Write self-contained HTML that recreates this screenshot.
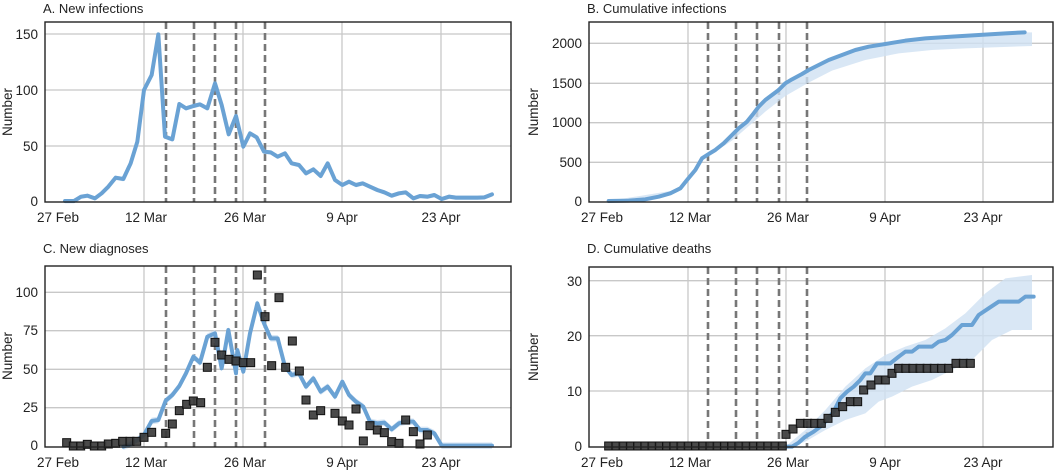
<!DOCTYPE html>
<html><head><meta charset="utf-8"><style>
body{margin:0;background:#fff}
svg{display:block}
text{font-family:"Liberation Sans",sans-serif;fill:#222}
.t{font-size:13px}
.k{font-size:13.5px}
.grid line{stroke:#c8c8c8;stroke-width:1.3}
.dash{stroke:#777;stroke-width:2.6;stroke-dasharray:7,4}
.ln{fill:none;stroke:#6aa2d4;stroke-width:12;stroke-linejoin:round;stroke-linecap:round}
.band{fill:#cfe1f3;opacity:.8}
.box{fill:none;stroke:#222;stroke-width:1.4}
</style></head><body>
<svg id="s" width="1064" height="472" viewBox="0 0 1064 472" xmlns="http://www.w3.org/2000/svg">
<!-- Panel A -->
<text x="43" y="13" class="t">A. New infections</text>
<g class="grid"><line x1="45" x2="511" y1="34" y2="34"/><line x1="45" x2="511" y1="90" y2="90"/><line x1="45" x2="511" y1="146" y2="146"/>
<line x1="144" x2="144" y1="22" y2="202"/><line x1="243" x2="243" y1="22" y2="202"/><line x1="342" x2="342" y1="22" y2="202"/><line x1="441" x2="441" y1="22" y2="202"/></g>
<g class="dash"><line x1="166" x2="166" y1="22" y2="202"/><line x1="194" x2="194" y1="22" y2="202"/><line x1="215" x2="215" y1="22" y2="202"/><line x1="236" x2="236" y1="22" y2="202"/><line x1="265" x2="265" y1="22" y2="202"/></g>
<g id="gA" transform="scale(0.33333)"></g>
<rect class="box" x="45" y="22" width="466" height="180"/>
<g class="k" text-anchor="end"><text x="38" y="39">150</text><text x="38" y="95">100</text><text x="38" y="151">50</text><text x="38" y="206">0</text></g>
<g class="k" text-anchor="middle"><text x="58" y="222">27 Feb</text><text x="146" y="222">12 Mar</text><text x="245" y="222">26 Mar</text><text x="342" y="222">9 Apr</text><text x="441" y="222">23 Apr</text></g>
<text class="k" transform="translate(12,112) rotate(-90)" text-anchor="middle">Number</text>

<!-- Panel B -->
<text x="587" y="13" class="t">B. Cumulative infections</text>
<g class="grid"><line x1="589" x2="1053" y1="43.3" y2="43.3"/><line x1="589" x2="1053" y1="83.3" y2="83.3"/><line x1="589" x2="1053" y1="122.7" y2="122.7"/><line x1="589" x2="1053" y1="162.3" y2="162.3"/>
<line x1="688" x2="688" y1="22" y2="202"/><line x1="786" x2="786" y1="22" y2="202"/><line x1="885" x2="885" y1="22" y2="202"/><line x1="983" x2="983" y1="22" y2="202"/></g>
<g class="dash"><line x1="708" x2="708" y1="22" y2="202"/><line x1="736" x2="736" y1="22" y2="202"/><line x1="757" x2="757" y1="22" y2="202"/><line x1="779" x2="779" y1="22" y2="202"/><line x1="807" x2="807" y1="22" y2="202"/></g>
<g id="gB" transform="translate(532,0) scale(0.33333)"></g>
<rect class="box" x="589" y="22" width="464" height="180"/>
<g class="k" text-anchor="end"><text x="582" y="48">2000</text><text x="582" y="88">1500</text><text x="582" y="127">1000</text><text x="582" y="167">500</text><text x="582" y="206">0</text></g>
<g class="k" text-anchor="middle"><text x="602" y="222">27 Feb</text><text x="690" y="222">12 Mar</text><text x="788" y="222">26 Mar</text><text x="885" y="222">9 Apr</text><text x="983" y="222">23 Apr</text></g>
<text class="k" transform="translate(538,112) rotate(-90)" text-anchor="middle">Number</text>

<!-- Panel C -->
<text x="43" y="253" class="t">C. New diagnoses</text>
<g class="grid"><line x1="45" x2="511" y1="292.3" y2="292.3"/><line x1="45" x2="511" y1="330.7" y2="330.7"/><line x1="45" x2="511" y1="369.3" y2="369.3"/><line x1="45" x2="511" y1="407.7" y2="407.7"/>
<line x1="144" x2="144" y1="266" y2="447"/><line x1="243" x2="243" y1="266" y2="447"/><line x1="342" x2="342" y1="266" y2="447"/><line x1="441" x2="441" y1="266" y2="447"/></g>
<g class="dash"><line x1="166" x2="166" y1="266" y2="447"/><line x1="194" x2="194" y1="266" y2="447"/><line x1="215" x2="215" y1="266" y2="447"/><line x1="236" x2="236" y1="266" y2="447"/><line x1="265" x2="265" y1="266" y2="447"/></g>
<g id="gC" transform="translate(0,240) scale(0.33333)"></g>
<rect class="box" x="45" y="266" width="466" height="181"/>
<g class="k" text-anchor="end"><text x="38" y="297">100</text><text x="38" y="335">75</text><text x="38" y="374">50</text><text x="38" y="412">25</text><text x="38" y="450">0</text></g>
<g class="k" text-anchor="middle"><text x="58" y="467">27 Feb</text><text x="146" y="467">12 Mar</text><text x="245" y="467">26 Mar</text><text x="342" y="467">9 Apr</text><text x="441" y="467">23 Apr</text></g>
<text class="k" transform="translate(12,356) rotate(-90)" text-anchor="middle">Number</text>

<!-- Panel D -->
<text x="587" y="253" class="t">D. Cumulative deaths</text>
<g class="grid"><line x1="589" x2="1053" y1="280.7" y2="280.7"/><line x1="589" x2="1053" y1="335.7" y2="335.7"/><line x1="589" x2="1053" y1="391" y2="391"/>
<line x1="688" x2="688" y1="267" y2="447"/><line x1="786" x2="786" y1="267" y2="447"/><line x1="885" x2="885" y1="267" y2="447"/><line x1="983" x2="983" y1="267" y2="447"/></g>
<g class="dash"><line x1="708" x2="708" y1="267" y2="447"/><line x1="736" x2="736" y1="267" y2="447"/><line x1="757" x2="757" y1="267" y2="447"/><line x1="779" x2="779" y1="267" y2="447"/><line x1="807" x2="807" y1="267" y2="447"/></g>
<g id="gD" transform="translate(532,240) scale(0.33333)"></g>
<rect class="box" x="589" y="267" width="464" height="180"/>
<g class="k" text-anchor="end"><text x="582" y="286">30</text><text x="582" y="341">20</text><text x="582" y="396">10</text><text x="582" y="451">0</text></g>
<g class="k" text-anchor="middle"><text x="602" y="467">27 Feb</text><text x="690" y="467">12 Mar</text><text x="788" y="467">26 Mar</text><text x="885" y="467">9 Apr</text><text x="983" y="467">23 Apr</text></g>
<text class="k" transform="translate(538,357) rotate(-90)" text-anchor="middle">Number</text>
</svg>
<script>
var NS="http://www.w3.org/2000/svg";
function el(g,tag,attrs){var e=document.createElementNS(NS,tag);for(var k in attrs)e.setAttribute(k,attrs[k]);document.getElementById(g).appendChild(e);return e;}
function pts(a){return a.map(function(p){return p.join(",")}).join(" ");}
function line(g,a){el(g,"polyline",{points:pts(a),"class":"ln"});}
function band(g,up,lo){el(g,"polygon",{points:pts(up.concat(lo.slice().reverse())),"class":"band"});}
function squares(g,a){a.forEach(function(p){el(g,"rect",{x:p[0]-12,y:p[1]-12,width:24,height:24,fill:"#3b3b3b","fill-opacity":"0.92",stroke:"#111","stroke-width":"3"});});}
function jitter(a,d){return a.map(function(p){return [p[0],p[1]+d];});}

var A=[[195,603],[222,603],[243,590],[262,587],[285,595],[305,580],[325,560],[347,533],[370,537],[392,490],[412,425],[432,270],[455,225],[475,103],[495,410],[517,418],[538,312],[558,325],[580,318],[600,313],[622,325],[645,250],[665,315],[686,403],[708,348],[730,440],[750,400],[770,412],[792,455],[812,457],[833,470],[855,460],[875,490],[897,495],[918,520],[940,508],[962,528],[983,490],[1005,540],[1027,555],[1047,545],[1068,555],[1088,550],[1110,560],[1132,570],[1153,577],[1175,587],[1197,580],[1217,577],[1240,595],[1260,588],[1282,590],[1303,585],[1325,597],[1347,590],[1368,593],[1390,593],[1410,593],[1432,593],[1453,592],[1476,583]];
band("gA",jitter(A,-6),jitter(A,7));
line("gA",A);

var B=[[230,603],[290,602],[340,598],[380,590],[415,580],[445,565],[465,540],[490,510],[510,475],[530,462],[550,450],[575,430],[600,405],[620,385],[645,365],[665,340],[680,320],[700,300],[720,285],[740,270],[760,250],[780,238],[810,222],[830,210],[860,195],[890,180],[930,165],[970,150],[1010,140],[1060,132],[1120,122],[1180,115],[1260,110],[1340,105],[1420,100],[1478,97],[1500,97]];
var Blo=[[230,603],[445,568],[510,482],[600,422],[700,335],[760,288],[830,248],[900,212],[1000,180],[1100,160],[1200,150],[1300,145],[1500,138]];
el("gB","polygon",{points:pts(B.concat(Blo.slice().reverse())),"class":"band"});
line("gB",B.slice(0,-1));

var C=[[370,620],[392,612],[412,600],[432,585],[455,543],[475,540],[497,482],[517,465],[538,438],[558,400],[580,350],[600,368],[622,290],[645,280],[665,385],[685,270],[708,400],[712,330],[730,395],[750,280],[772,190],[792,250],[812,295],[833,295],[855,380],[875,405],[897,400],[918,440],[940,415],[962,455],[983,440],[1005,470],[1027,425],[1047,465],[1068,485],[1090,500],[1110,545],[1132,550],[1153,548],[1175,568],[1197,550],[1217,545],[1240,545],[1260,570],[1282,570],[1303,580],[1325,617],[1476,617]];
band("gC",jitter(C,-10),jitter(C,10));
line("gC",C);
squares("gC",[[200,608],[220,618],[242,618],[262,613],[283,618],[305,618],[325,612],[347,610],[368,604],[390,604],[410,604],[432,592],[455,577],[497,580],[517,552],[538,512],[560,493],[580,483],[602,488],[622,382],[645,307],[665,345],[687,358],[708,363],[730,368],[752,368],[772,105],[795,230],[815,377],[837,173],[857,382],[877,303],[898,393],[918,480],[940,525],[962,512],[1005,520],[1027,543],[1047,555],[1068,507],[1090,603],[1110,557],[1132,570],[1153,578],[1175,605],[1197,610],[1217,540],[1240,575],[1260,612],[1282,585]]);

var Dup=[[760,620],[820,570],[880,510],[940,440],[1000,385],[1060,345],[1120,320],[1180,300],[1240,265],[1300,220],[1360,160],[1420,115],[1500,105]];
var Dlo=[[760,620],[780,620],[820,605],[880,570],[940,540],[1000,520],[1040,485],[1080,470],[1140,440],[1200,420],[1260,390],[1320,360],[1380,300],[1440,270],[1500,270]];
el("gD","polygon",{points:pts(Dup.concat(Dlo.slice().reverse())),"class":"band"});
line("gD",[[760,620],[780,620],[800,608],[820,590],[845,575],[865,560],[885,540],[905,515],[925,475],[945,455],[965,440],[985,420],[1000,400],[1015,400],[1035,370],[1055,370],[1075,370],[1100,350],[1120,335],[1140,335],[1160,320],[1200,320],[1220,305],[1240,300],[1260,285],[1290,255],[1320,255],[1340,225],[1370,205],[1400,185],[1460,185],[1480,170],[1505,170]]);
var DS=[];for(var i=0;i<25;i++)DS.push([230+i*21.7,618]);
DS=DS.concat([[762,583],[783,567],[805,550],[827,550],[848,550],[868,550],[888,535],[910,517],[932,500],[955,485],[977,485],[995,450],[1017,435],[1040,420],[1060,420],[1080,400]]);
for(var x=1100;x<=1250;x+=21.4)DS.push([x,385]);
DS=DS.concat([[1272,370],[1294,370],[1315,370]]);
squares("gD",DS);
</script>
</body></html>
